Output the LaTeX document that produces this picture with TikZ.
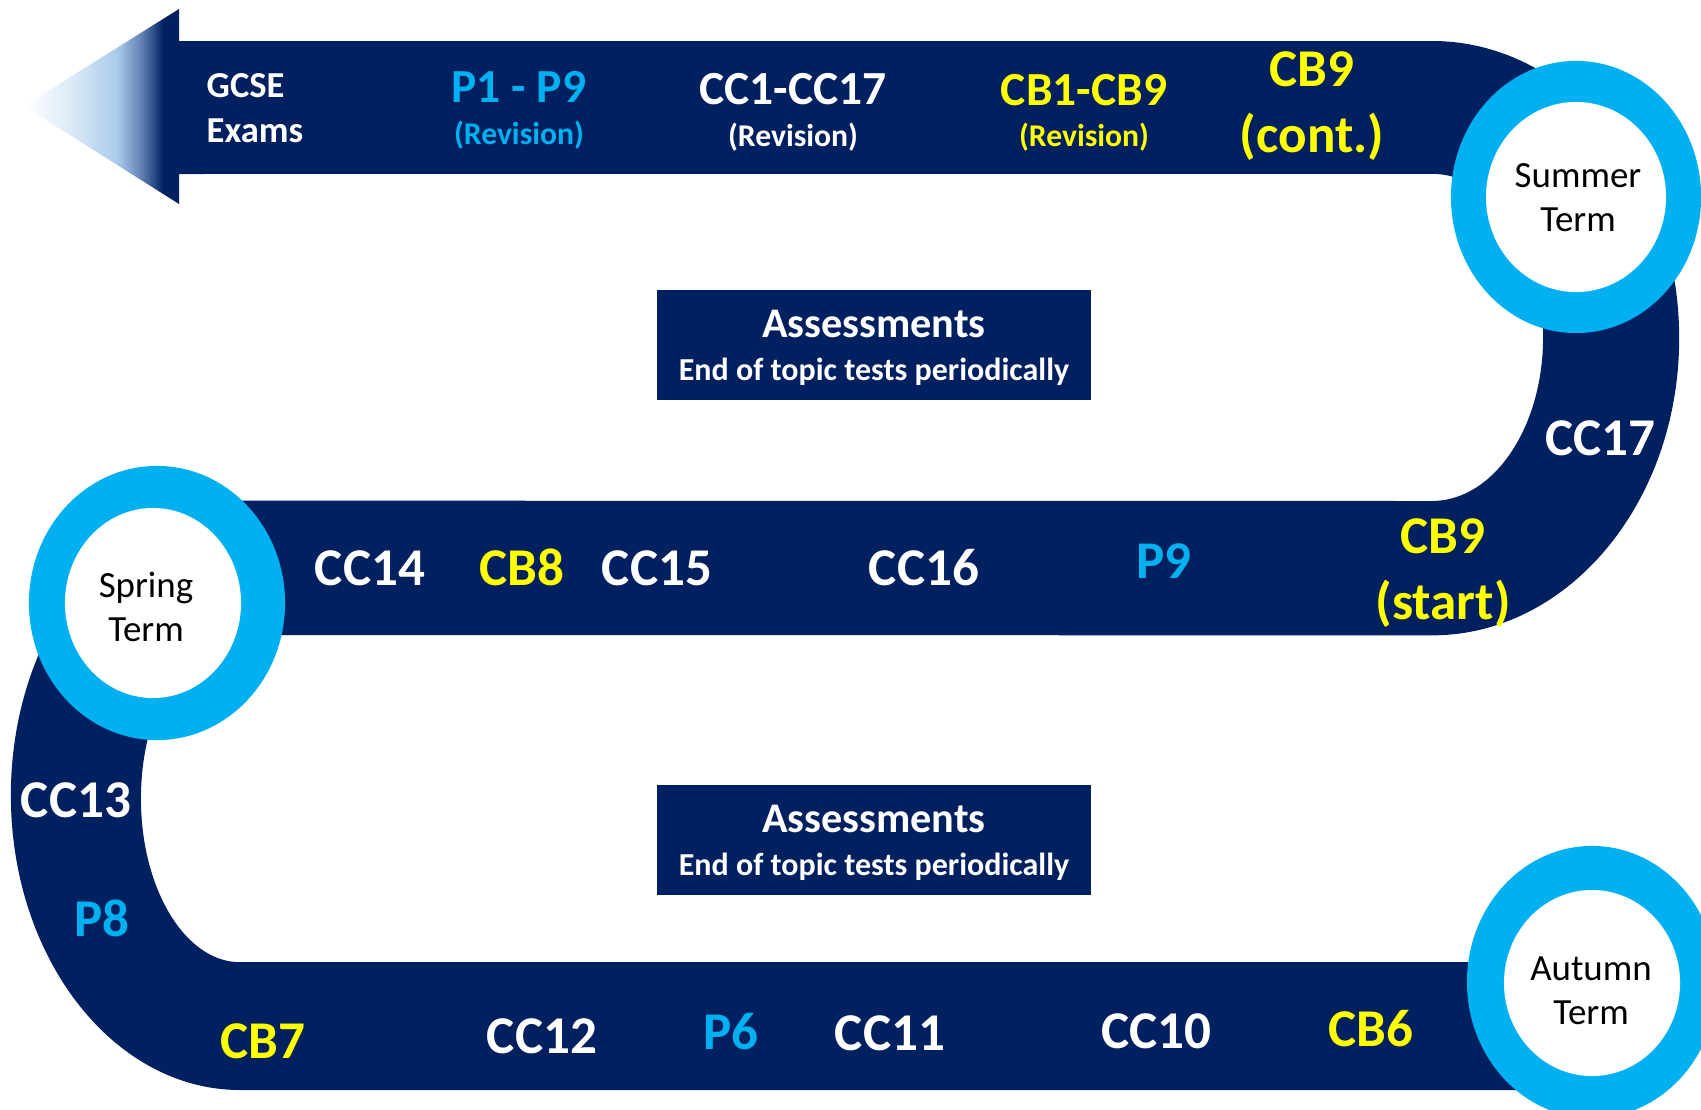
\documentclass[tikz,border=0pt]{standalone}
\usepackage{fontspec}
\setmainfont{Carlito}
\usetikzlibrary{positioning}
\definecolor{navyband}{HTML}{002060}
\definecolor{ringblue}{HTML}{00B0F0}
\definecolor{cbyellow}{HTML}{FFFF00}
\definecolor{headblue}{HTML}{A9CBEA}
\definecolor{headpale}{HTML}{DCEAF7}
\definecolor{headmid}{HTML}{5F7FB2}
\pgfdeclarehorizontalshading{headfade}{100bp}{color(0bp)=(white); color(25bp)=(white);
    color(40bp)=(headpale); color(55bp)=(headblue); color(63bp)=(headmid);
    color(70bp)=(navyband); color(100bp)=(navyband)}
\begin{document}
\begin{tikzpicture}[x=0.01cm, y=0.01cm,
    topic/.style={inner sep=0pt, text=#1, align=center, font=\fontsize{15.1}{18.6}\selectfont\bfseries},
    topic/.default=white,
    revtopic/.style={inner sep=0pt, text=#1, font=\fontsize{13.5}{16}\selectfont\bfseries},
    revnote/.style={inner sep=0pt, text=#1, font=\fontsize{9}{11}\selectfont\bfseries},
    termtext/.style={inner sep=0pt, align=center, font=\fontsize{10.5}{12.5}\selectfont},
    assess/.style={fill=navyband, text=white, minimum width=4.33cm, minimum height=1.09cm,
                   text depth=0pt, align=center, font=\fontsize{9.1}{12.2}\selectfont\bfseries},
]
\useasboundingbox (0,0) rectangle (1701,-1109);

\fill[navyband] (179,-41) -- (1432,-41) arc[start angle=90, end angle=-90, x radius=2.47cm, y radius=2.97cm]
    -- (240,-635) arc[start angle=90, end angle=270, x radius=0.99cm, y radius=1.635cm]
    -- (1600,-962) -- (1600,-1090) -- (240,-1090)
    arc[start angle=270, end angle=90, x radius=2.29cm, y radius=2.945cm]
    -- (1432,-501) arc[start angle=-90, end angle=90, x radius=1.11cm, y radius=1.635cm]
    -- (179,-174) -- cycle;
\shade[shading=headfade] (179,-9) -- (24,-106) -- (179,-204) -- cycle;

\fill[ringblue] (1576,-197) ellipse[x radius=1.25cm, y radius=1.36cm];
\fill[white] (1576,-197) ellipse[x radius=0.90cm, y radius=0.95cm];
\fill[ringblue] (157,-603) ellipse[x radius=1.28cm, y radius=1.37cm];
\fill[white] (153,-603) ellipse[x radius=0.88cm, y radius=0.95cm];
\fill[ringblue] (1592,-982) ellipse[x radius=1.25cm, y radius=1.36cm];
\fill[white] (1592,-983) ellipse[x radius=0.88cm, y radius=0.93cm];

\node[termtext] (summer) at (1578,-198) {Summer\\Term};
\node[termtext] (spring) at (146,-607) {Spring\\Term};
\node[termtext] (autumn) at (1591,-991) {Autumn\\Term};

\node[inner sep=0pt, anchor=west, align=left, text=white, font=\fontsize{10.4}{12.8}\selectfont\bfseries] (gcse) at (206,-108) {GCSE\\Exams};
\node[revtopic=ringblue] (prev) at (519,-87) {P1 - P9};
\node[revnote=ringblue] (prevnote) at (519,-135) {(Revision)};
\node[revtopic=white] (ccrev) at (793,-89) {CC1-CC17};
\node[revnote=white] (ccrevnote) at (793,-137) {(Revision)};
\node[revtopic=cbyellow] (cbrev) at (1084,-90) {CB1-CB9};
\node[revnote=cbyellow] (cbrevnote) at (1084,-137) {(Revision)};
\node[topic=cbyellow] (cbcont) at (1312,-106) {CB9\\(cont.)};

\node[assess] (assesstop) at (874,-345) {{\fontsize{12}{12}\selectfont Assessments}\\End of topic tests periodically};
\node[assess] (assessbottom) at (874,-840) {{\fontsize{12}{12}\selectfont Assessments}\\End of topic tests periodically};

\node[topic] (cc17) at (1600,-438) {CC17};
\node[topic=cbyellow] (cbstart) at (1443,-573) {CB9\\(start)};
\node[topic=ringblue] (p9) at (1164,-561) {P9};
\node[topic] (cc16) at (924,-568) {CC16};
\node[topic] (cc15) at (657,-568) {CC15};
\node[topic=cbyellow] (cb8) at (522,-567) {CB8};
\node[topic] (cc14) at (370,-568) {CC14};

\node[topic] (cc13) at (76,-800) {CC13};
\node[topic=ringblue] (p8) at (102,-918) {P8};

\node[topic=cbyellow] (cb7) at (263,-1041) {CB7};
\node[topic] (cc12) at (542,-1036) {CC12};
\node[topic=ringblue] (p6) at (731,-1032) {P6};
\node[topic] (cc11) at (890,-1033) {CC11};
\node[topic] (cc10) at (1156,-1031) {CC10};
\node[topic=cbyellow] (cb6) at (1371,-1029) {CB6};
\end{tikzpicture}
\end{document}
